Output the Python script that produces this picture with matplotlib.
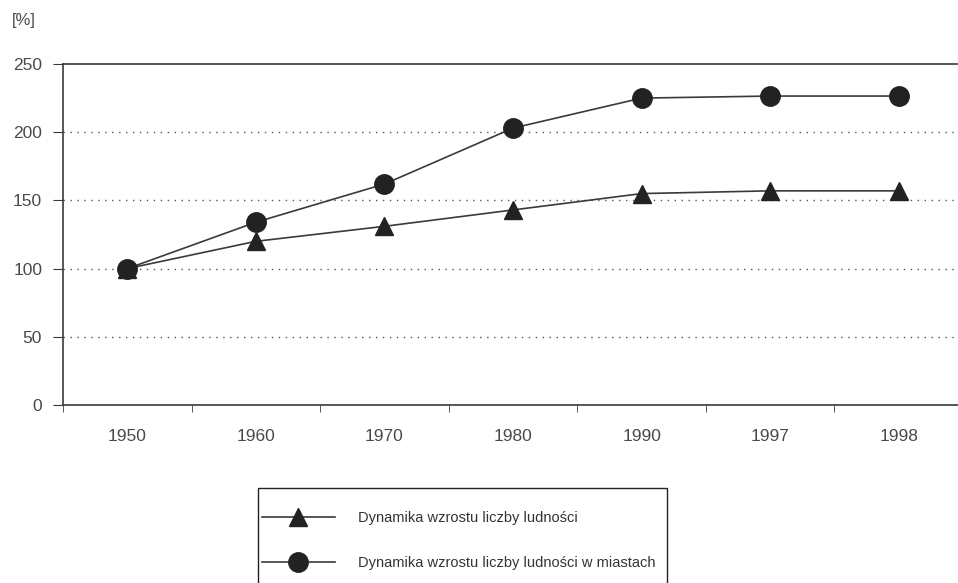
import matplotlib

matplotlib.use("Agg")

import matplotlib.pyplot as plt
from matplotlib.patches import Rectangle
import numpy as np

plt.rcParams["font.family"] = ["Liberation Sans", "DejaVu Sans"]

years = ["1950", "1960", "1970", "1980", "1990", "1997", "1998"]
ludnosc = [100, 120, 131, 143, 155, 157, 157]
ludnosc_miasta = [100, 134, 162, 203, 225, 226.5, 226.5]
y_ticks = [0, 50, 100, 150, 200, 250]

line_col = "#3a3a3a"
text_col = "#4a4a4a"

fig = plt.figure(figsize=(9.58, 5.83), dpi=100)
ax = fig.add_axes([63 / 958, 1 - 405 / 583, 900 / 958, 341 / 583])

x = np.arange(len(years))
ax.plot(x, ludnosc, color=line_col, lw=1.2, marker="^", ms=13,
        mfc="#222222", mec="#222222", label="Dynamika wzrostu liczby ludności", zorder=3)
ax.plot(x, ludnosc_miasta, color=line_col, lw=1.2, marker="o", ms=14,
        mfc="#222222", mec="#222222", label="Dynamika wzrostu liczby ludności w miastach", zorder=3)

ax.set_xlim(-0.5, len(years) - 0.5)
ax.set_ylim(0, 250)
ax.set_yticks(y_ticks)
ax.set_yticklabels([str(v) for v in y_ticks], color=text_col, fontsize=12.5)
ax.set_xticks(x)
ax.set_xticklabels(years, color=text_col, fontsize=12.5)
ax.tick_params(axis="x", which="major", length=0, pad=17)
ax.set_xticks(np.arange(len(years)) - 0.5, minor=True)
ax.tick_params(axis="x", which="minor", length=5, direction="out", color=line_col)
ax.tick_params(axis="y", length=7, direction="out", color=line_col, pad=8)

for v in y_ticks[1:-1]:
    ax.axhline(v, color="#555555", lw=1, ls=(0, (1, 4)), zorder=1)

ax.spines["right"].set_visible(False)
for s in ["left", "bottom", "top"]:
    ax.spines[s].set_color(line_col)
    ax.spines[s].set_linewidth(1.2)

fig.text(12 / 958, 1 - 20 / 583, "[%]", color=text_col, fontsize=12, va="center")

# legend box drawn by hand: it runs off the bottom edge like in the scan
fig.patches.append(Rectangle((258 / 958, 1 - 600 / 583), 409 / 958, 112 / 583,
                             transform=fig.transFigure, fill=False,
                             edgecolor="#222222", lw=1))
leg = fig.legend(loc="upper left", bbox_to_anchor=(262 / 958, 1 - 511 / 583),
                 frameon=False, fontsize=10.5, handlelength=5,
                 labelspacing=2.1, borderpad=0, handletextpad=1.6,
                 borderaxespad=0)
for t in leg.get_texts():
    t.set_color("#333333")

fig.savefig("out.png", dpi=100)
